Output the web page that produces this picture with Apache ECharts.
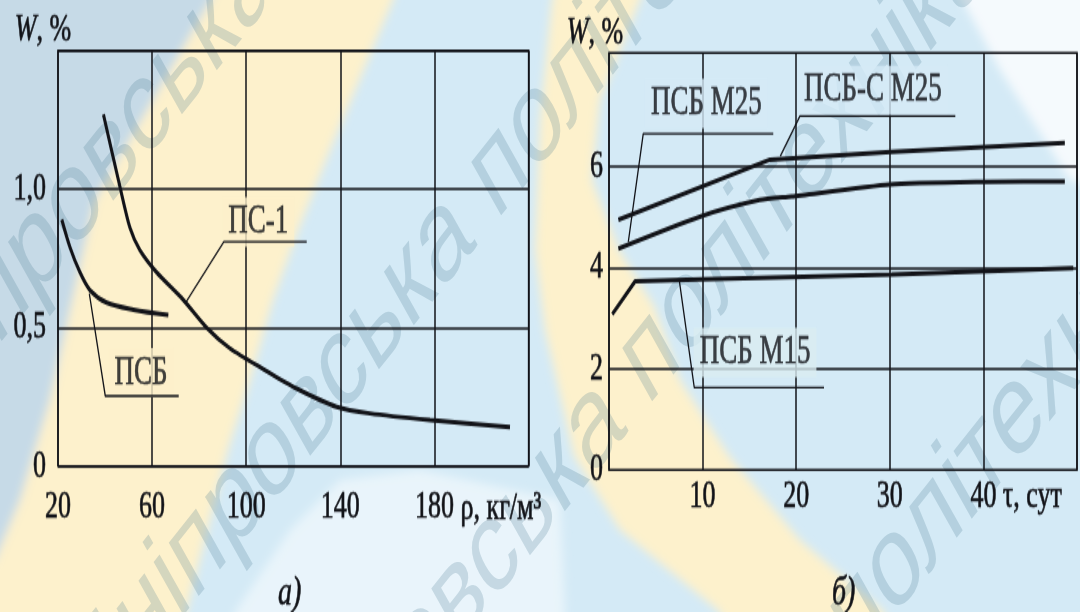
<!DOCTYPE html>
<html lang="uk">
<head>
<meta charset="utf-8">
<title>Водопоглинання пінополістиролу</title>
<script src="https://cdn.jsdelivr.net/npm/echarts@6/dist/echarts.min.js"></script>
<style>
  html, body { margin: 0; padding: 0; width: 1080px; height: 612px; overflow: hidden; background: #d4eaf6; }
  #backdrop { position: absolute; left: 0; top: 0; width: 1080px; height: 612px; }
  /* the figure is set in tall, narrow type: draw at 2/3 height and stretch */
  #chart { position: absolute; left: 0; top: 0; width: 1080px; height: 408px; transform: scaleY(1.5); transform-origin: 0 0; }
</style>
</head>
<body>
<svg id="backdrop" viewBox="0 0 1080 612" preserveAspectRatio="none">
  <defs>
    <filter id="soft" filterUnits="userSpaceOnUse" x="-80" y="-80" width="1240" height="772">
      <feGaussianBlur stdDeviation="5"/>
    </filter>
  </defs>
  <g filter="url(#soft)">
    <polygon fill="#c6dae7" points="-60,-60 232,-60 211,0 153,100 95,200 71,306 50,400 20,500 -5,560 -60,560"/>
    <polygon fill="#fdf1cc" points="232,-60 412,-60 393,0 330,150 297,233 273,300 250,380 228,450 186,612 168,680 -60,680 -60,600 -5,560 20,500 50,400 71,306 95,200 153,100 211,0"/>
    <polygon fill="#fdf1cc" points="566,-60 552,0 540,120 535,250 545,330 574,456 620,530 720,612 735,680 905,680 884,612 800,540 729,456 680,380 654,306 619,250 592,180 600,100 640,0 662,-60"/>
    <polygon fill="#f7fbfd" fill-opacity="0.6" points="235,612 290,530 340,480 420,470 560,500 565,612 560,680 220,680"/>
    <polygon fill="#fbfdfe" fill-opacity="0.85" points="930,-60 1140,-60 1140,200 1070,180 1000,70"/>
  </g>
  <g transform="scale(1,1.5)" font-family="Liberation Sans, Arial, sans-serif" font-size="88"
     fill="#46788f" fill-opacity="0.22" text-anchor="middle">
    <text transform="translate(258,-18) rotate(-40)" dominant-baseline="middle">Дніпровська політехніка</text>
    <text transform="translate(455,152) rotate(-40)" dominant-baseline="middle">Дніпровська політехніка</text>
    <text transform="translate(606,276) rotate(-40)" dominant-baseline="middle">Дніпровська політехніка</text>
    <text transform="translate(814,448) rotate(-40)" dominant-baseline="middle">Дніпровська політехніка</text>
  </g>
</svg>
<div id="chart"></div>
<script>
// ---- а) водопоглинання W від густини ρ ----
const densityTicks = [20, 60, 100, 140, 180];
const wTicksA = [0, 0.5, 1.0];
const ps1Density = [39.3, 46.3, 50.6, 54.8, 61.9, 73.3, 83.2, 93.1, 107.3, 121.4, 138.4, 152.6, 178.1, 212.1];
const ps1W       = [1.27, 1.01, 0.86, 0.78, 0.70, 0.60, 0.50, 0.425, 0.35, 0.28, 0.214, 0.19, 0.166, 0.14];
const psbDensity = [21.6, 25.1, 29.3, 33.6, 40.7, 52.0, 66.9];
const psbW       = [0.89, 0.79, 0.70, 0.635, 0.59, 0.565, 0.545];

// ---- б) водопоглинання W від часу τ ----
const dayTicks = [10, 20, 30, 40];
const wTicksB = [0, 2, 4, 6];
const psbsM25Days = [1.0, 17.2, 30.2, 40.2, 48.7];
const psbsM25W    = [4.95, 6.14, 6.29, 6.39, 6.47];
const psbM25Days  = [1.0, 9.7, 16.1, 19.5, 30.0, 40.2, 48.7];
const psbM25W     = [4.38, 5.01, 5.34, 5.41, 5.65, 5.70, 5.71];
const psbM15Days  = [0.35, 2.78, 9.7, 30.2, 49.6];
const psbM15W     = [3.08, 3.73, 3.77, 3.87, 3.99];

// callout names, text anchors and leader polylines (data units)
const tagNamesA = ['ПС-1', 'ПСБ'];
const tagAtA = [[105.1, 0.882], [55.3, 0.337]];
const leadersA = [
  [[74.0, 0.587], [90.5, 0.81], [125.7, 0.81]],
  [[33.3, 0.623], [40.1, 0.253], [71.3, 0.253]]
];
const tagNamesB = ['ПСБ М25', 'ПСБ-С М25', 'ПСБ М15'];
const tagAtB = [[10.4, 7.25], [28.2, 7.51], [15.6, 2.32]];
const leadersB = [
  [[2.06, 4.51], [3.66, 6.65], [17.55, 6.65]],
  [[18.3, 6.21], [20.4, 7.0], [37.0, 7.0]],
  [[7.53, 3.72], [9.11, 1.63], [22.97, 1.63]]
];

const ink = '#121318';
const serif = 'Liberation Serif, Times New Roman, serif';
// a hairline outline gives the type the weight of the printed figure
const heavy = { textBorderColor: ink, textBorderWidth: 0.5 };
const tickFont = { fontFamily: serif, fontSize: 26, color: ink, ...heavy };
const zip = (xs, ys) => xs.map((x, i) => [x, ys[i]]);
const commaNum = v => (v === 0 ? '0' : v.toFixed(1).replace('.', ','));

const curve = (name, xs, ys, ax, smooth) => ({
  type: 'line', name, xAxisIndex: ax, yAxisIndex: ax, data: zip(xs, ys),
  smooth, symbol: 'none', silent: true, z: 6,
  lineStyle: { color: ink, width: 3 }
});
const leader = (pts, ax) => ({
  type: 'line', xAxisIndex: ax, yAxisIndex: ax, data: pts, symbol: 'none',
  silent: true, z: 6, lineStyle: { color: ink, width: 1.3 }
});
const tag = (name, at, ax, fill) => ({
  type: 'scatter', xAxisIndex: ax, yAxisIndex: ax, symbolSize: 0, silent: true, z: 5,
  data: [{ value: at, name }],
  label: {
    show: true, position: 'inside', formatter: '{b}',
    fontFamily: serif, fontSize: 27, color: ink, ...heavy,
    backgroundColor: fill, padding: [3, 6, 3, 6]
  }
});
const yName = pad => ({
  ...tickFont, padding: [0, pad, 0, 0],
  rich: { i: { fontFamily: serif, fontSize: 26, fontStyle: 'italic', color: ink, ...heavy } }
});

const series = [
  curve('ПС-1', ps1Density, ps1W, 0, 0.25),
  curve('ПСБ', psbDensity, psbW, 0, 0.3),
  curve('ПСБ-С М25', psbsM25Days, psbsM25W, 1, false),
  curve('ПСБ М25', psbM25Days, psbM25W, 1, 0.2),
  curve('ПСБ М15', psbM15Days, psbM15W, 1, false),
  {
    // horizontal rules of panel б at W = 2, 4, 6
    type: 'line', xAxisIndex: 1, yAxisIndex: 1, data: [], z: 1, silent: true,
    markLine: {
      silent: true, symbol: ['none', 'none'], label: { show: false },
      lineStyle: { color: ink, width: 1.5, type: 'solid' },
      data: wTicksB.filter(v => v > 0).map(v => ({ yAxis: v }))
    }
  }
];
leadersA.forEach(p => series.push(leader(p, 0)));
leadersB.forEach(p => series.push(leader(p, 1)));
const fillsA = ['#fcf0cb', '#fcf0cb'];
const fillsB = ['#d4eaf6', '#d4eaf6', '#d9ecf1'];
tagNamesA.forEach((n, i) => series.push(tag(n, tagAtA[i], 0, fillsA[i])));
tagNamesB.forEach((n, i) => series.push(tag(n, tagAtB[i], 1, fillsB[i])));

const frame = { show: true, borderColor: ink, borderWidth: 1.5, backgroundColor: 'transparent' };
const rule = { show: true, lineStyle: { color: ink, width: 1.5 } };
const captionStyle = { fontFamily: serif, fontStyle: 'italic', fontWeight: 'normal', fontSize: 28, color: ink, ...heavy };

const chart = echarts.init(document.getElementById('chart'), null, { renderer: 'canvas' });
chart.setOption({
  animation: false,
  backgroundColor: 'transparent',
  title: [
    { text: 'а)', left: 278, top: 382, padding: 0, textStyle: captionStyle },
    { text: 'б)', left: 832, top: 382, padding: 0, textStyle: captionStyle }
  ],
  grid: [
    { left: 58, right: 551.4, top: 33.8, bottom: 97.3, outerBoundsMode: 'none', ...frame },
    { left: 609, right: 3, top: 35.3, bottom: 94.7, outerBoundsMode: 'none', ...frame }
  ],
  xAxis: [
    {
      gridIndex: 0, type: 'value', min: 20, max: 220, interval: 40,
      axisLine: { show: false }, axisTick: { show: false }, splitLine: rule,
      axisLabel: { ...tickFont, margin: 14, formatter: v => (densityTicks.includes(v) ? String(v) : '') },
      name: 'ρ, кг/м³', nameLocation: 'end', nameGap: -68,
      nameTextStyle: { ...tickFont, align: 'left', verticalAlign: 'top', padding: [15, 0, 0, 0] }
    },
    {
      gridIndex: 1, type: 'value', min: 0, max: 50, interval: 10,
      axisLine: { show: false }, axisTick: { show: false }, splitLine: rule,
      axisLabel: { ...tickFont, margin: 5, formatter: v => (dayTicks.includes(v) ? String(v) : '') },
      name: 'τ, сут', nameLocation: 'end', nameGap: -77,
      nameTextStyle: { ...tickFont, align: 'left', verticalAlign: 'top', padding: [5, 0, 0, 0] }
    }
  ],
  yAxis: [
    {
      gridIndex: 0, type: 'value', min: 0, max: 1.5, interval: 0.5,
      axisLine: { show: false }, axisTick: { show: false }, splitLine: rule,
      axisLabel: { ...tickFont, margin: 12, formatter: v => (wTicksA.includes(v) ? commaNum(v) : '') },
      name: '{i|W}, %', nameLocation: 'end', nameGap: 1, nameTextStyle: yName(30)
    },
    {
      gridIndex: 1, type: 'value', min: 0, max: 8.25, interval: 2,
      axisLine: { show: false }, axisTick: { show: false }, splitLine: { show: false },
      axisLabel: { ...tickFont, margin: 6, formatter: v => (wTicksB.includes(v) ? String(v) : '') },
      name: '{i|W}, %', nameLocation: 'end', nameGap: 0, nameTextStyle: yName(28)
    }
  ],
  series
});
</script>
</body>
</html>
